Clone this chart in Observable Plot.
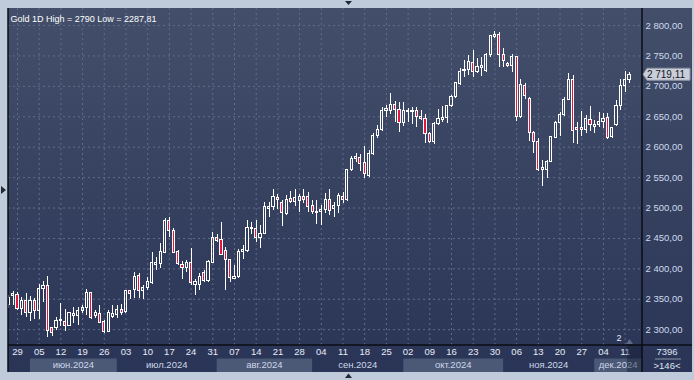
<!DOCTYPE html>
<html><head><meta charset="utf-8">
<script src="https://cdn.jsdelivr.net/npm/d3@7"></script>
<script src="https://cdn.jsdelivr.net/npm/@observablehq/plot@0.6"></script>
<style>
html,body{margin:0;padding:0;background:#bfcbda;}
#wrap{position:relative;width:694px;height:380px;overflow:hidden;background:#bfcbda;}
#panel{position:absolute;left:8px;top:8px;width:684px;height:364px;background:linear-gradient(#434f6a,#2a3456);}
#chart{position:absolute;left:0;top:0;}
</style></head><body>
<div id="wrap"><div id="panel"></div><div id="chart"></div></div>
<script>
const instrument = "Gold 1D";
const startDate = [2024, 4, 27]; // first trading day (27 May 2024)
const open  = [2340,2355,2357.6,2334,2347.6,2326.7,2346.5,2330,2367,2372,2302,2302,2314,2313,2306,2323,2322,2330,2335,2360,2322,2326,2312,2297,2321,2324,2333,2329,2363,2365,2389,2363,2369,2376,2407,2408,2426,2479,2463,2427,2406,2401,2409,2374,2374,2394,2380,2410,2451,2447,2430,2414,2383,2386,2428,2430,2465,2466,2451,2457,2499,2501,2517,2509,2490,2515,2509.5,2512,2518,2518,2504,2492,2493,2496,2513,2498.5,2504,2518,2513,2563,2580,2582,2574,2553,2589,2619,2628,2659,2660,2670,2661,2639,2657.5,2657.5,2659,2650,2646.5,2621,2608,2638,2645,2648,2668,2682,2704,2725,2727,2739,2724,2730,2726,2752,2781,2785,2751,2737,2734,2748,2650,2700,2679,2624,2609,2563,2563,2576,2615,2640,2653,2678,2710,2632,2632,2629,2645,2634,2637,2641,2647.6,2616,2637,2667,2700,2710];
const high  = [2356,2363,2361,2353,2360,2354,2352,2374,2379,2388,2303,2320,2343,2334,2328,2337,2337,2339,2366,2361,2331,2339,2315,2331,2339,2339,2342,2365,2365,2394,2392,2372.5,2386,2427,2419,2441,2482,2485,2466,2430,2412,2414,2433,2383,2392,2397,2414,2460,2457,2477,2435,2416,2405,2431,2438,2479,2477,2479,2471,2509,2509,2531,2521.5,2512,2520,2527.5,2529.7,2523,2529.7,2526,2512,2512,2504,2524,2530,2509.5,2524,2526,2564,2584.6,2589,2588,2601,2594.5,2623,2635.6,2665.7,2668.4,2687.6,2675,2674,2674,2663,2665.7,2665.7,2660,2653.6,2624.6,2641,2661.3,2666.8,2668.4,2685,2706.8,2728.7,2742.4,2750.7,2758.9,2745.2,2748,2753.4,2783.6,2790,2788,2761.6,2739.7,2751.8,2749.6,2712,2704,2682.2,2625.7,2613.7,2578,2578,2616.4,2642.2,2656.4,2682.2,2720.5,2717.8,2640,2659,2652,2667,2644,2657,2656,2655,2633,2677,2711,2724,2722];
const low   = [2335,2339,2331,2323,2320.5,2314,2316,2317,2345,2287.81,2288,2298,2305,2297,2305,2310,2307,2326,2323,2317,2319,2310,2293,2296,2318,2319,2323,2326,2350,2351,2351,2350,2364,2375,2397,2400,2425,2452,2425,2406,2383,2394,2372,2356,2364,2378,2378,2408,2444,2422,2364,2378,2383,2384,2416,2427,2457,2444,2433,2456,2485,2496,2497,2469,2487.5,2506.7,2502.4,2493,2506.7,2493,2489,2473,2471,2491,2487.5,2485,2491,2507,2511,2560.5,2575,2560.5,2548,2550.6,2586,2613.6,2626,2649.3,2653.6,2641,2624.6,2634,2641,2638,2631.7,2643.8,2605.4,2605.4,2604,2635.6,2641,2638.3,2664.6,2679.4,2701.3,2713.9,2718,2714,2720.5,2716.7,2723.3,2748,2778,2731.5,2731.5,2731.5,2723.3,2642.2,2647,2678.3,2609.3,2589,2560,2536,2549,2575.3,2613.7,2618,2651,2676.7,2605.5,2605,2618,2622,2625,2622,2633,2630,2613,2615,2634,2660,2690,2705];
const close = [2352,2358,2334,2347.6,2326.7,2347.6,2330,2367,2372,2298,2295,2315,2316,2306,2327,2326,2331,2335,2361,2320,2327,2311,2297,2327,2325,2333,2328,2363,2359,2386,2364,2369,2378,2409,2410,2428,2479,2463,2426,2408,2401,2409,2376,2378,2387,2380,2411,2451,2446,2423,2414,2385,2387,2428,2431,2467,2467,2451,2458,2502,2502,2518,2513,2491,2513,2509.5,2516,2518,2513,2502,2493,2494,2497,2513,2495,2504,2519,2513,2563,2581,2583.5,2572.5,2556,2589,2619,2628,2660,2662,2670,2661,2639,2660,2660,2659,2649,2646.5,2621,2608,2638,2646.5,2648,2668,2683,2705,2723,2727.6,2740,2724,2731.5,2733,2752,2782.5,2785,2751,2741,2733,2748,2649,2703,2684,2624,2608,2562,2565.5,2576,2616,2640,2653,2678,2711,2627,2628,2628,2646,2636,2637,2642,2646.5,2615,2631,2668,2700,2711,2719.11];
const yTicks = [2300,2350,2400,2450,2500,2550,2600,2650,2700,2750,2800];
const monthNames = ["янв","фев","мар","апр","май","июн","июл","авг","сен","окт","ноя","дек"];
const barsCode = "7396";
const barsShown = ">146<";

// trading-day calendar (weekdays)
const dates = [];
{ let d = new Date(startDate[0], startDate[1], startDate[2]);
  while (dates.length < open.length) { const wd = d.getDay(); if (wd !== 0 && wd !== 6) dates.push(new Date(d)); d.setDate(d.getDate()+1); } }
const rows = open.map((o,i)=>({i, o, h: high[i], l: low[i], c: close[i], up: close[i] >= o}));
const xMax = 146.0;
const wed = dates.map((d,i)=>d.getDay()===3 ? i : -1).filter(i=>i>=0);
const months = [];
dates.forEach((d,i)=>{ if (i===0 || d.getMonth()!==dates[i-1].getMonth()) months.push({start:i, m:d.getMonth(), y:d.getFullYear()}); });
months.forEach((m,k)=>{ m.end = k<months.length-1 ? months[k+1].start : xMax; m.label = monthNames[m.m]+"."+m.y; });
const labeledMonths = months.slice(1);
const fmt = v => { const s = v.toFixed(2).replace(".", ","); const [a,b] = s.split(","); return a.slice(0,a.length-3)+" "+a.slice(-3)+","+b; };
const maxH = d3.max(high), minL = d3.min(low);
const title = `${instrument} High = ${String(maxH).replace(".",",")} Low = ${String(minL).replace(".",",")}`;
const last = close[close.length-1];

const gridStroke = "#5f6d8a";
const red = "#e3173e";
const plot = Plot.plot({
  width: 694, height: 380,
  marginLeft: 8, marginRight: 52, marginTop: 8, marginBottom: 35,
  x: {type: "linear", domain: [-0.07, xMax], axis: null},
  y: {domain: [2274, 2828], axis: null},
  style: {fontFamily: "'Liberation Sans', Arial, sans-serif", fontSize: "9px", background: "transparent", overflow: "visible"},
  marks: [
    Plot.gridY(yTicks, {stroke: gridStroke, strokeOpacity: 1, strokeDasharray: "2,3"}),
    Plot.gridX(wed, {stroke: gridStroke, strokeOpacity: 1, strokeDasharray: "2,3"}),
    Plot.ruleX(rows, {x: "i", y1: "h", y2: d=>Math.max(d.o,d.c), stroke: "#ffffff", clip: true, shapeRendering: "crispEdges"}),
    Plot.ruleX(rows, {x: "i", y1: d=>Math.min(d.o,d.c), y2: "l", stroke: "#ffffff", clip: true, shapeRendering: "crispEdges"}),
    Plot.rect(rows, {x1: d=>d.i-0.25, x2: d=>d.i+0.25, y1: "o", y2: "c", fill: d=>d.up ? "none" : red, stroke: "#ffffff", clip: true, shapeRendering: "crispEdges"}),
    Plot.axisY(yTicks, {anchor: "right", tickSize: 0, tickPadding: 3, tickFormat: fmt, fill: "#cfdaee", fontSize: 9.5, label: null}),
    Plot.text(wed, {x: d=>d, text: i=>d3.timeFormat("%d")(dates[i]), frameAnchor: "bottom", dy: 9, fill: "#e6ecf7", fontSize: 9.5}),
    Plot.text([title], {frameAnchor: "top-left", dx: 2, dy: 7, text: d=>d, fill: "#ffffff", textAnchor: "start", fontSize: 9})
  ]
});
document.getElementById("chart").appendChild(plot);

const svg = d3.select(plot);
const xs = plot.scale("x"), ys = plot.scale("y");
const L = 8, R = 642, T = 8, B = 345, W = 692, BB = 372;
// month bands under the axis
const bg = svg.insert("g", ":first-child");
labeledMonths.forEach((m,k)=>{
  if (k % 2 === 0) bg.append("rect").attr("x", xs.apply(m.start)).attr("y", 358.5).attr("width", Math.min(R, xs.apply(m.end)) - xs.apply(m.start)).attr("height", BB-358.5).attr("fill", "#4b5876");
});
const fg = svg.append("g");
labeledMonths.forEach(m=>{
  fg.append("text").attr("x", (xs.apply(m.start)+Math.min(R, xs.apply(m.end)))/2).attr("y", 365).attr("dy","0.32em").attr("text-anchor","middle").attr("fill","#cdd7ea").attr("font-size", 9.5).text(m.label);
});
// overlay current bar marker
fg.append("rect").attr("x", xs.apply(close.length-1)-2).attr("y", B).attr("width", R - xs.apply(close.length-1)+2).attr("height", BB-B).attr("fill", "rgba(20,28,50,0.45)");
fg.append("text").attr("x", 619).attr("y", 341).attr("text-anchor","middle").attr("fill","#e6ecf7").attr("font-size",9).text("2");
fg.append("path").attr("d", "M626,344L629.5,339L633,344Z").attr("fill", "#5d6a84");
// borders
fg.append("line").attr("x1", L).attr("x2", L).attr("y1", T).attr("y2", BB).attr("stroke", "#0a0d14").attr("stroke-width", 1.5);
fg.append("line").attr("x1", R).attr("x2", R).attr("y1", T).attr("y2", BB).attr("stroke", "#0a0d14").attr("stroke-width", 1.5);
fg.append("line").attr("x1", L).attr("x2", W).attr("y1", B).attr("y2", B).attr("stroke", "#0a0d14").attr("stroke-width", 1.5);
// corner cell
fg.append("text").attr("x", 667).attr("y", 352).attr("dy","0.32em").attr("text-anchor","middle").attr("fill","#dfe6f2").attr("font-size",9.5).text(barsCode);
fg.append("line").attr("x1", 655).attr("x2", 681).attr("y1", 359).attr("y2", 359).attr("stroke", "#8a96ab");
fg.append("text").attr("x", 667).attr("y", 365.5).attr("dy","0.32em").attr("text-anchor","middle").attr("fill","#dfe6f2").attr("font-size",9.5).text(barsShown);
// price tag
const ty = ys.apply(last);
fg.append("path").attr("d", `M${R+1},${ty}L${R+5},${ty-6}L690,${ty-6}L690,${ty+6}L${R+5},${ty+6}Z`).attr("fill", "#c9ced8").attr("stroke", "#8d96a6");
fg.append("text").attr("x", 666).attr("y", ty).attr("dy","0.35em").attr("text-anchor","middle").attr("fill","#15181f").attr("font-size",10).text(fmt(last));
// frame arrows
fg.append("path").attr("d", "M345,1L352,1L348.5,5Z").attr("fill", "#222834");
fg.append("path").attr("d", "M1,186L6,190L1,194Z").attr("fill", "#222834");
fg.append("path").attr("d", "M345,378L352,378L348.5,373.5Z").attr("fill", "#222834");
</script>
</body></html>
